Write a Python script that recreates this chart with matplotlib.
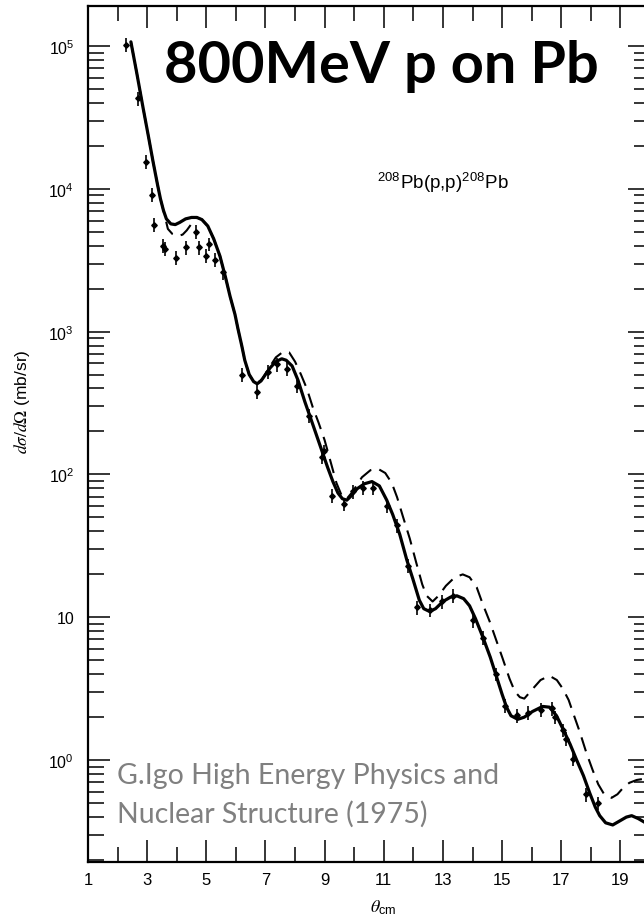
import matplotlib
matplotlib.use("Agg")
import matplotlib.pyplot as plt
from matplotlib.ticker import FixedLocator, LogLocator, FuncFormatter, NullFormatter
import numpy as np

plt.rcParams['font.family'] = ['Liberation Sans', 'DejaVu Sans']
plt.rcParams['mathtext.fontset'] = 'stix'

# Measured elastic cross sections, 208Pb(p,p) at 800 MeV
theta_data = [2.28, 2.69, 2.96, 3.16, 3.24, 3.54, 3.62, 3.97, 4.31, 4.65, 4.76,
              4.98, 5.08, 5.29, 5.56, 6.2, 6.7, 7.08, 7.38, 7.72, 8.06, 8.47,
              8.9, 8.97, 9.25, 9.65, 9.96, 10.29, 10.63, 11.1, 11.44, 11.81,
              12.12, 12.55, 12.96, 13.33, 14.0, 14.35, 14.8, 15.09, 15.5,
              15.86, 16.3, 16.68, 16.8, 17.05, 17.15, 17.4, 17.83, 18.23]
xsec_data = [1.02e5, 4.3e4, 1.55e4, 9.1e3, 5.6e3, 4.0e3, 3.8e3, 3.3e3, 3.9e3,
             5.0e3, 3.9e3, 3.4e3, 4.1e3, 3.2e3, 2.6e3, 500, 380, 525, 590, 550,
             415, 257, 132, 145, 71, 62, 76, 81, 81, 60, 44, 23, 11.7, 11.2,
             12.9, 14.1, 9.5, 7.2, 4.0, 2.4, 2.05, 2.15, 2.25, 2.3, 2.0, 1.62,
             1.41, 1.02, 0.575, 0.50]
rel_err = 0.11

# Calculation 1 (solid): angle and log10 cross section
theta_solid = [2.45, 2.65, 2.86, 3.05, 3.2, 3.35, 3.45, 3.55, 3.65, 3.8, 3.95,
               4.1, 4.3, 4.5, 4.68, 4.85, 5.05, 5.25, 5.46, 5.65, 5.8, 5.97,
               6.07, 6.2, 6.3, 6.45, 6.6, 6.72, 6.85, 7.0, 7.15, 7.35, 7.55,
               7.7, 7.9, 8.1, 8.33, 8.6, 8.9, 9.1, 9.28, 9.45, 9.6, 9.75, 9.9,
               10.1, 10.35, 10.6, 10.85, 11.1, 11.3, 11.54, 11.78, 11.98, 12.2,
               12.35, 12.55, 12.75, 13.0, 13.25, 13.47, 13.7, 13.9, 14.1,
               14.35, 14.6, 14.8, 15.0, 15.15, 15.3, 15.53, 15.75, 16.03,
               16.37, 16.6, 16.84, 17.05, 17.3, 17.52, 17.75, 17.96, 18.15,
               18.3, 18.5, 18.74, 18.95, 19.2, 19.38, 19.6, 19.85]
log_solid = [5.03, 4.81, 4.57, 4.36, 4.19, 4.03, 3.93, 3.85, 3.79, 3.755, 3.75,
             3.765, 3.79, 3.80, 3.80, 3.785, 3.74, 3.65, 3.53, 3.38, 3.25, 3.12,
             3.02, 2.90, 2.80, 2.70, 2.65, 2.635, 2.655, 2.70, 2.745, 2.79,
             2.81, 2.80, 2.76, 2.66, 2.51, 2.35, 2.17, 2.05, 1.95, 1.87, 1.83,
             1.82, 1.85, 1.90, 1.935, 1.95, 1.92, 1.82, 1.72, 1.58, 1.40, 1.27,
             1.12, 1.06, 1.04, 1.06, 1.11, 1.14, 1.15, 1.13, 1.08, 0.99, 0.86,
             0.72, 0.59, 0.46, 0.37, 0.31, 0.285, 0.30, 0.34, 0.375, 0.37,
             0.31, 0.22, 0.11, 0.00, -0.11, -0.23, -0.33, -0.39, -0.44, -0.455,
             -0.43, -0.40, -0.39, -0.41, -0.44]

# Calculation 2 (dashed): angle and log10 cross section
theta_dash = [2.45, 2.65, 2.86, 3.05, 3.2, 3.35, 3.45, 3.55, 3.62, 3.7, 3.85,
              4.04, 4.2, 4.34, 4.55, 4.68, 4.85, 5.05, 5.25, 5.46, 5.65, 5.8,
              5.97, 6.07, 6.2, 6.3, 6.45, 6.6, 6.75, 6.9, 7.1, 7.35, 7.6, 7.8,
              8.0, 8.2, 8.4, 8.6, 8.8, 9.0, 9.2, 9.4, 9.6, 9.75, 9.95, 10.26,
              10.55, 10.8, 11.05, 11.27, 11.45, 11.64, 11.88, 12.1, 12.3,
              12.45, 12.65, 12.85, 13.1, 13.4, 13.67, 13.9, 14.14, 14.35,
              14.58, 14.8, 15.02, 15.25, 15.43, 15.6, 15.75, 16.0, 16.3, 16.6,
              16.85, 17.05, 17.25, 17.45, 17.62, 17.85, 18.06, 18.25, 18.45,
              18.7, 18.9, 19.07, 19.3, 19.55, 19.85]
log_dash = [5.03, 4.81, 4.57, 4.36, 4.19, 4.03, 3.93, 3.85, 3.79, 3.72, 3.685,
            3.67, 3.68, 3.71, 3.77, 3.80, 3.785, 3.74, 3.65, 3.53, 3.38, 3.25,
            3.12, 3.02, 2.90, 2.80, 2.70, 2.65, 2.645, 2.67, 2.74, 2.82, 2.86,
            2.855, 2.79, 2.70, 2.60, 2.47, 2.36, 2.24, 2.09, 1.94, 1.84, 1.83,
            1.88, 1.98, 2.03, 2.04, 2.01, 1.94, 1.84, 1.71, 1.55, 1.38, 1.23,
            1.15, 1.11, 1.15, 1.22, 1.28, 1.30, 1.28, 1.21, 1.09, 0.97, 0.84,
            0.71, 0.57, 0.48, 0.44, 0.43, 0.49, 0.56, 0.59, 0.56, 0.50, 0.42,
            0.30, 0.20, 0.05, -0.07, -0.17, -0.24, -0.265, -0.24, -0.20,
            -0.16, -0.14, -0.13]

x_major = [1, 3, 5, 7, 9, 11, 13, 15, 17, 19]
x_minor = [2, 4, 6, 8, 10, 12, 14, 16, 18, 20]
y_major = [1e0, 1e1, 1e2, 1e3, 1e4, 1e5]

W, H = 644, 920
fig = plt.figure(figsize=(W / 100, H / 100), dpi=100)
fig.patch.set_facecolor('white')
ax = fig.add_axes([88 / W, 1 - 863 / H, (650 - 88) / W, (863 - 7) / H])

ax.plot(theta_solid, 10 ** np.array(log_solid), color='black', lw=2.3,
        solid_capstyle='round', zorder=3)
ax.plot(theta_dash, 10 ** np.array(log_dash), color='black', lw=1.5,
        dashes=(7, 4), zorder=2)
yd = np.array(xsec_data)
ax.errorbar(theta_data, yd, yerr=[yd * rel_err, yd * rel_err], fmt='D',
            ms=2.8, color='black', elinewidth=1.2, capsize=0, zorder=4)

ax.set_yscale('log')
ax.set_xlim(1, 20)
ax.set_ylim(0.193, 1.91e5)

ax.xaxis.set_major_locator(FixedLocator(x_major))
ax.xaxis.set_minor_locator(FixedLocator(x_minor))
ax.yaxis.set_major_locator(FixedLocator(y_major))
ax.yaxis.set_minor_locator(LogLocator(base=10, subs=np.arange(2, 10)))
ax.yaxis.set_minor_formatter(NullFormatter())


def ylab(v, pos):
    e = int(round(np.log10(v)))
    if e == 1:
        return '10'
    return r'$\mathregular{10^{%d}}$' % e


ax.yaxis.set_major_formatter(FuncFormatter(ylab))

for s in ax.spines.values():
    s.set_linewidth(1.6)

ax.tick_params(which='both', direction='in', top=True, right=True,
               width=1.1, colors='black')
ax.tick_params(axis='y', which='major', length=16, pad=10, labelsize=11.5)
ax.tick_params(axis='y', which='minor', length=11.5)
ax.tick_params(axis='x', which='major', length=16, pad=7, labelsize=12)
ax.tick_params(axis='x', which='minor', length=11)

fig.text(22 / W, 1 - 402 / H, r'$d\sigma/d\Omega$ (mb/sr)', rotation=90,
         ha='center', va='center', fontsize=12.5)
fig.text(383 / W, 1 - 908 / H, r'$\theta_{\mathregular{cm}}$', ha='center',
         va='center', fontsize=13)

fig.text(381 / W, 1 - 83 / H, '800MeV p on Pb', ha='center', va='baseline',
         fontsize=41.6, fontweight='bold', family=['Lato', 'DejaVu Sans'],
         color='black')
fig.text(443 / W, 1 - 189 / H,
         r'$^{\mathregular{208}}$Pb(p,p)$^{\mathregular{208}}$Pb',
         ha='center', va='baseline', fontsize=13.5)
fig.text(117 / W, 1 - 823 / H,
         'G.Igo High Energy Physics and\nNuclear Structure (1975)',
         ha='left', va='baseline', fontsize=20.5, color='#808080',
         family=['Lato', 'DejaVu Sans'], linespacing=1.55)

fig.savefig('out.png', dpi=100, facecolor='white')
